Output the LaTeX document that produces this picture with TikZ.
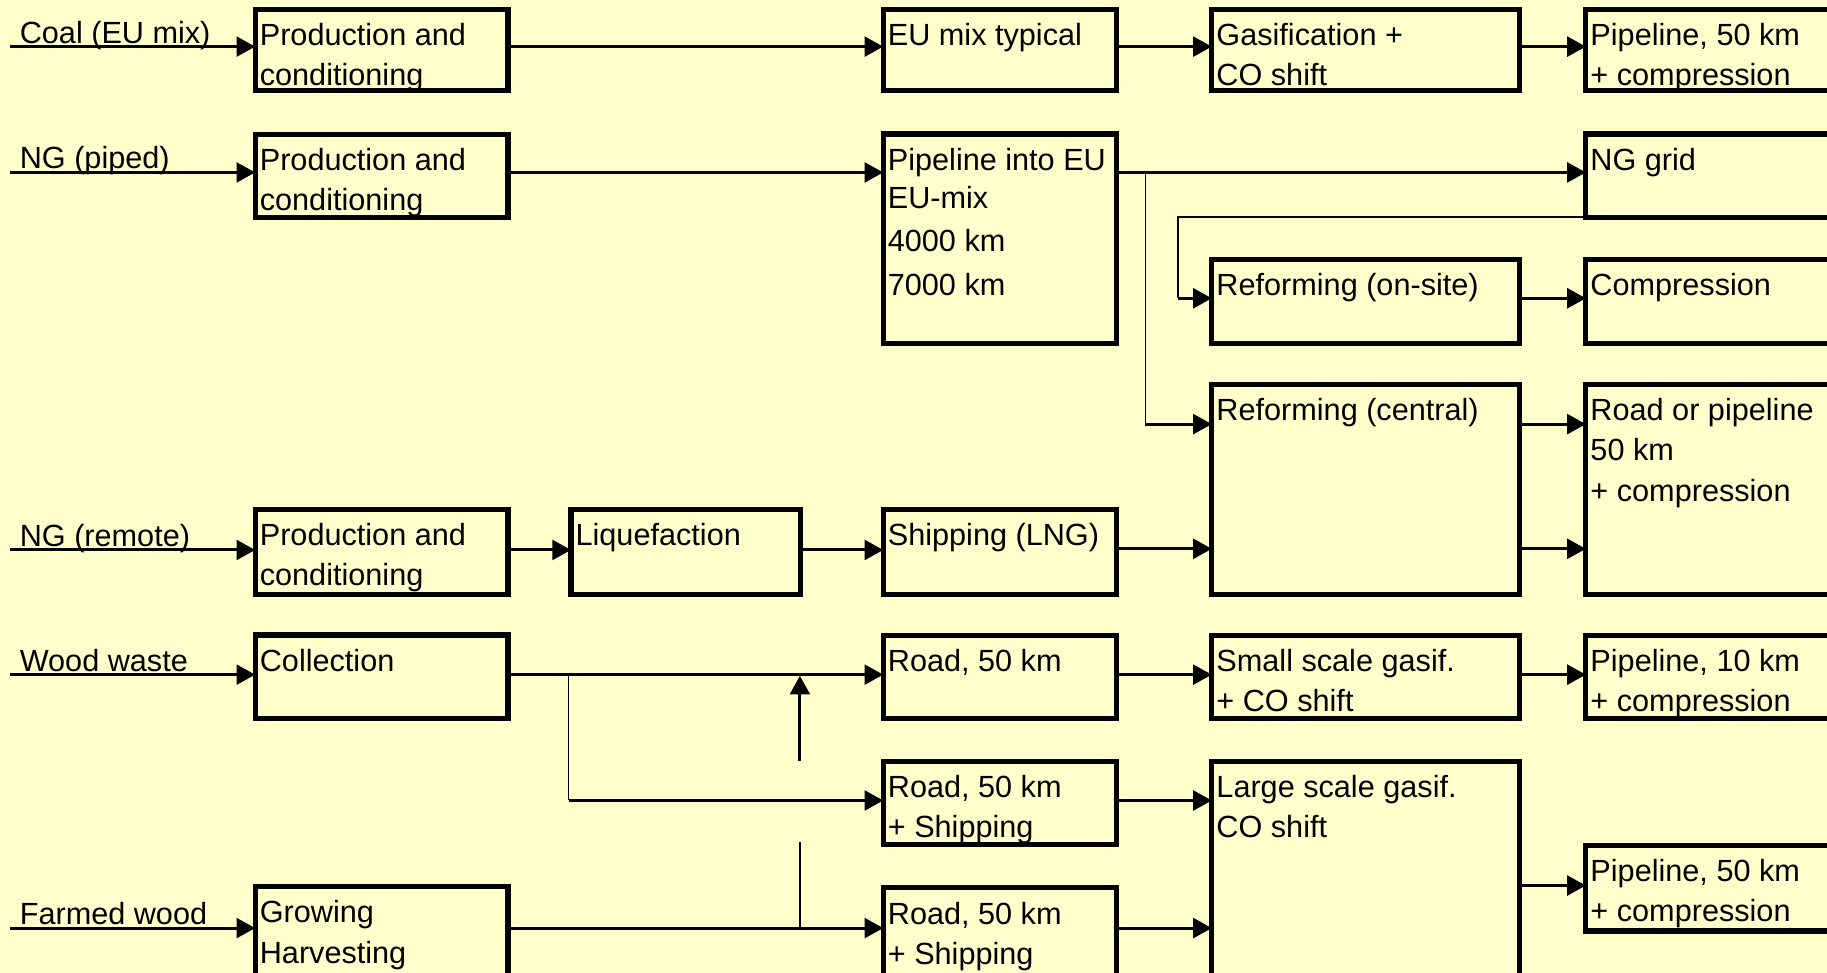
\documentclass[tikz,border=0pt]{standalone}
\usepackage{fontspec}
\setmainfont{Liberation Sans}
\usetikzlibrary{arrows.meta,calc}
\definecolor{bgc}{RGB}{255,255,204}
\tikzset{
  boxst/.style={draw=black, line width=4.4pt, rectangle, inner sep=0pt, outer sep=0pt, anchor=north west, line join=miter},
  txt/.style={inner sep=0pt, outer sep=0pt, anchor=north west, align=left, font=\fontsize{26.3}{34.5}\selectfont},
  lbl/.style={inner sep=0pt, outer sep=0pt, anchor=base west, font=\fontsize{26.3}{34.5}\selectfont},
  conn/.style={line width=2.6pt, -{Triangle[length=16pt,width=17pt]}},
  thinline/.style={line width=1.4pt},
}
\newcommand\drawbox[6]{%
  \node[boxst, minimum width={#4-#2}, minimum height={#5-#3}] (#1) at (#2,-#3) {};
  \node[txt] (#1t) at ($(#1.north west)+(4,-6)$) {\rule{0pt}{25pt}#6};
}
\begin{document}
\begin{tikzpicture}[x=1pt,y=1pt]
\useasboundingbox (0,0) rectangle (1568,-835);
\fill[bgc] (-5,5) rectangle (1575,-840);
\clip (0,0) rectangle (1568,-835);

% boxes
\drawbox{pc1}{219}{8}{436}{78}{Production and\\conditioning}
\drawbox{eu}{758}{8}{958}{78}{EU mix typical}
\drawbox{gas}{1040}{8}{1304}{78}{Gasification +\\CO shift}
\drawbox{pip1}{1361}{8}{1640}{78}{Pipeline, 50 km\\+ compression}
\drawbox{pc2}{219}{115.5}{436}{187}{Production and\\conditioning}
\drawbox{pie}{758}{115}{958}{295}{Pipeline into EU\\[-1.5pt]EU-mix\\[2pt]4000 km\\[3.5pt]7000 km}
\drawbox{grid}{1361}{115}{1640}{187}{NG grid}
\drawbox{rons}{1040}{223}{1304}{295}{Reforming (on-site)}
\drawbox{comp}{1361}{223}{1640}{295}{Compression}
\drawbox{refc}{1040}{330}{1304}{510}{Reforming (central)}
\drawbox{rop}{1361}{330}{1640}{510}{Road or pipeline\\50 km\\+ compression}
\drawbox{pc3}{219}{437}{436}{510}{Production and\\conditioning}
\drawbox{liq}{490}{437}{687}{510}{Liquefaction}
\drawbox{ship}{758}{437}{958}{510}{Shipping (LNG)}
\drawbox{coll}{219}{545}{436}{617}{Collection}
\drawbox{roadA}{758}{545.5}{958}{617}{Road, 50 km}
\drawbox{small}{1040}{545.5}{1304}{617}{Small scale gasif.\\+ CO shift}
\drawbox{pipT}{1361}{545.5}{1640}{617}{Pipeline, 10 km\\+ compression}
\drawbox{roadB}{758}{653.5}{958}{725}{Road, 50 km\\+ Shipping}
\drawbox{large}{1040}{653.5}{1304}{900}{Large scale gasif.\\CO shift}
\drawbox{pipF}{1361}{725.6}{1640}{799}{Pipeline, 50 km\\+ compression}
\drawbox{grow}{219}{761}{436}{900}{Growing\\Harvesting}
\drawbox{roadC}{758}{762}{958}{900}{Road, 50 km\\+ Shipping}

% input labels and start points
\node[lbl] (lcoal) at (17,-37.5) {Coal (EU mix)};
\node[lbl] (lngp) at (17,-145) {NG (piped)};
\node[lbl] (lngr) at (17,-469) {NG (remote)};
\node[lbl] (lwood) at (17,-576) {Wood waste};
\node[lbl] (lfarm) at (17,-793.5) {Farmed wood};
\coordinate (scoal) at (9,-40);
\coordinate (sngp) at (9,-148);
\coordinate (sngr) at (9,-472);
\coordinate (swood) at (9,-579);
\coordinate (sfarm) at (9,-796.5);

% row 1
\draw[conn] (scoal) -- (pc1.west |- scoal);
\draw[conn] (pc1.east |- scoal) -- (eu.west |- scoal);
\draw[conn] (eu.east |- scoal) -- (gas.west |- scoal);
\draw[conn] (gas.east |- scoal) -- (pip1.west |- scoal);

% row 2
\draw[conn] (sngp) -- (pc2.west |- sngp);
\draw[conn] (pc2.east |- sngp) -- (pie.west |- sngp);
\draw[conn] (pie.east |- sngp) -- (grid.west |- sngp);
\coordinate (j1) at (983,-148);
\coordinate (j2) at (983,-364);
\draw[thinline] (j1) -- (j2);
\draw[conn] (j2) -- (refc.west |- j2);
\coordinate (g2) at (1011,-186);
\coordinate (g3) at (1011,-256);
\draw[thinline] (grid.west |- g2) -- (g2) -- (g3);
\draw[conn] (g3) -- (rons.west |- g3);
\draw[conn] (rons.east |- g3) -- (comp.west |- g3);
\draw[conn] (refc.east |- j2) -- (rop.west |- j2);
\coordinate (r2) at (0,-471);
\draw[conn] (refc.east |- r2) -- (rop.west |- r2);

% NG remote
\draw[conn] (sngr) -- (pc3.west |- sngr);
\draw[conn] (pc3.east |- sngr) -- (liq.west |- sngr);
\draw[conn] (liq.east |- sngr) -- (ship.west |- sngr);
\draw[conn] (ship.east |- r2) -- (refc.west |- r2);

% wood waste
\draw[conn] (swood) -- (coll.west |- swood);
\draw[conn] (coll.east |- swood) -- (roadA.west |- swood);
\draw[conn] (roadA.east |- swood) -- (small.west |- swood);
\draw[conn] (small.east |- swood) -- (pipT.west |- swood);
\coordinate (w1) at (488,-579);
\coordinate (w2) at (488,-687);
\draw[thinline] (w1) -- (w2);
\draw[conn] (w2) -- (roadB.west |- w2);
\draw[conn] (roadB.east |- w2) -- (large.west |- w2);
\coordinate (u1) at (686.5,-653);
\coordinate (u2) at (686.5,-580);
\draw[conn] (u1) -- (u2);
\coordinate (v1) at (686.5,-723);
\coordinate (v2) at (686.5,-796.5);
\draw[thinline] (v1) -- (v2);

% farmed wood
\draw[conn] (sfarm) -- (grow.west |- sfarm);
\draw[conn] (grow.east |- sfarm) -- (roadC.west |- sfarm);
\draw[conn] (roadC.east |- sfarm) -- (large.west |- sfarm);
\coordinate (f2) at (0,-760);
\draw[conn] (large.east |- f2) -- (pipF.west |- f2);
\end{tikzpicture}
\end{document}
